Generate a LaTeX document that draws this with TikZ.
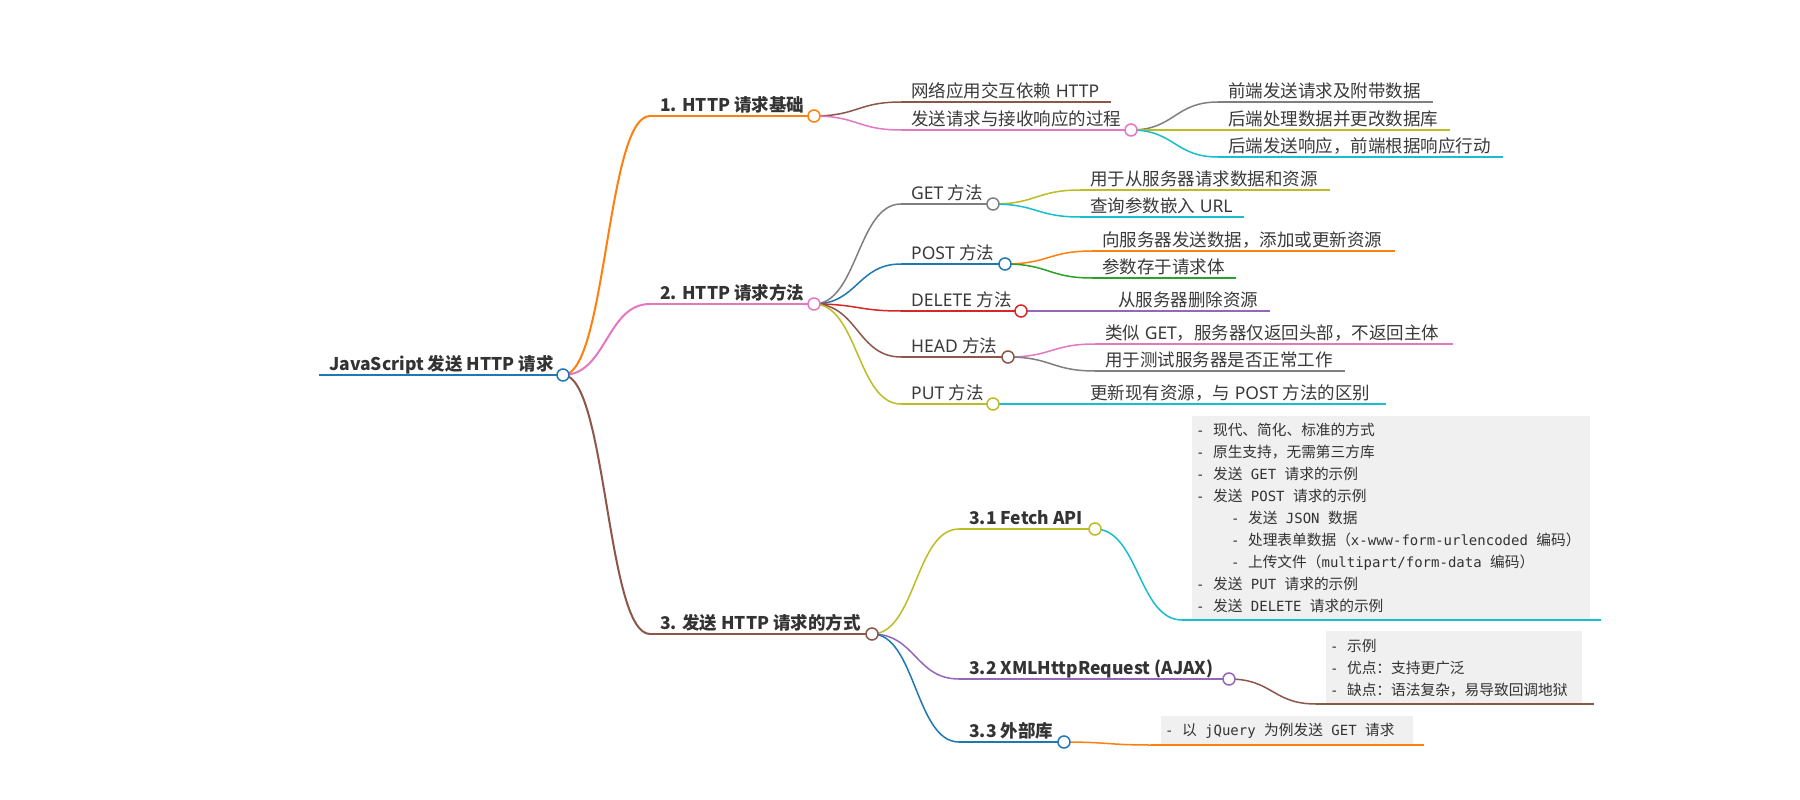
\documentclass[tikz,border=0pt]{standalone}
\usepackage{graphicx}
\usepackage{fontspec}
\setmainfont{Noto Sans}
\newfontfamily\cjkf{Noto Sans CJK SC}
\newfontfamily\monof{DejaVu Sans Mono}
\usetikzlibrary{calc}
\definecolor{cBlue}{HTML}{1F77B4}
\definecolor{cOrange}{HTML}{FF7F0E}
\definecolor{cGreen}{HTML}{2CA02C}
\definecolor{cRed}{HTML}{D62728}
\definecolor{cPurple}{HTML}{9467BD}
\definecolor{cBrown}{HTML}{8C564B}
\definecolor{cPink}{HTML}{E377C2}
\definecolor{cGray}{HTML}{7F7F7F}
\definecolor{cOlive}{HTML}{BCBD22}
\definecolor{cCyan}{HTML}{17BECF}
\definecolor{textc}{HTML}{333333}
\definecolor{ntextc}{HTML}{3A3A3A}
\definecolor{boxc}{HTML}{F0F0F0}
\newlength\mw \setlength\mw{8.43pt}
\newcommand\Z[1]{{\cjkf #1}}
\newcommand\ZM[1]{{\cjkf\fontsize{14.7}{22}\selectfont #1}}
\newcommand\T[2]{\resizebox{#1\mw}{!}{#2}}
\newcommand\Sp{\hspace{\mw}}
\newcommand\D{\T{1}{-}\hspace{\mw}}
% name, color, x0, y, x1, width, style, text
\newcommand\mmnode[8]{%
  \coordinate (#1-s) at (#3,#4);
  \coordinate (#1-e) at (#5,#4);
  \draw[draw=#2, line width=#6pt] (#1-s) -- (#1-e);
  \node[#7, anchor=base west] (#1) at ({#3+10},{#4-4.5}) {#8};
}
% parent, child, color, width
\newcommand\mmlink[4]{%
  \draw[draw=#3, line width=#4pt] let \p1=(#1-e), \p2=(#2-s) in
    (\p1) .. controls ({(\x1+\x2)/2},\y1) and ({(\x1+\x2)/2},\y2) .. (\p2);
}
\newcommand\mmdot[2]{\node[dotc, draw=#2] (#1-c) at (#1-e) {};}
\tikzset{
  txt/.style={inner sep=0pt, text=ntextc, font=\fontsize{17.5}{21}\selectfont},
  btxt/.style={inner sep=0pt, text=textc, font=\cjkf\bfseries\fontsize{17.5}{21}\selectfont},
  dotc/.style={circle, fill=white, line width=1.5pt, minimum size=12pt, inner sep=0pt},
  boxn/.style={fill=boxc, align=left, inner xsep=4pt, inner ysep=0pt, text=textc,
    font=\monof\fontsize{14}{22}\selectfont, anchor=north west},
}
\begin{document}
\begin{tikzpicture}[x=1pt,y=-1pt]
\fill[white] (0,0) rectangle (1800,800);
\useasboundingbox (0,0) rectangle (1800,800);

% ---------- nodes (underlines + text) ----------
\mmnode{root}{cBlue}{319}{375}{563}{2.5}{btxt}{JavaScript \Z{发送} HTTP \Z{请求}}
\mmnode{L1}{cOrange}{650}{116}{814}{2}{btxt}{1. HTTP \Z{请求基础}}
\mmnode{L2}{cPink}{650}{304}{814}{2}{btxt}{2. HTTP \Z{请求方法}}
\mmnode{L3}{cBrown}{650}{634}{872}{2}{btxt}{3. \Z{发送} HTTP \Z{请求的方式}}

\mmnode{a1}{cBrown}{901}{102}{1111}{1.5}{txt}{\Z{网络应用交互依赖} HTTP}
\mmnode{a2}{cPink}{901}{130}{1131}{1.5}{txt}{\Z{发送请求与接收响应的过程}}
\mmnode{b1}{cGray}{1218}{102}{1433}{1.5}{txt}{\Z{前端发送请求及附带数据}}
\mmnode{b2}{cOlive}{1218}{130}{1450}{1.5}{txt}{\Z{后端处理数据并更改数据库}}
\mmnode{b3}{cCyan}{1218}{157}{1503}{1.5}{txt}{\Z{后端发送响应，前端根据响应行动}}

\mmnode{g}{cGray}{901}{204}{993}{1.5}{txt}{GET \Z{方法}}
\mmnode{g1}{cOlive}{1080}{190}{1330}{1.5}{txt}{\Z{用于从服务器请求数据和资源}}
\mmnode{g2}{cCyan}{1080}{217}{1244}{1.5}{txt}{\Z{查询参数嵌入} URL}
\mmnode{p}{cBlue}{901}{264}{1005}{1.5}{txt}{POST \Z{方法}}
\mmnode{p1}{cOrange}{1092}{251}{1395}{1.5}{txt}{\Z{向服务器发送数据，添加或更新资源}}
\mmnode{p2}{cGreen}{1092}{278}{1236}{1.5}{txt}{\Z{参数存于请求体}}
\mmnode{d}{cRed}{901}{311}{1021}{1.5}{txt}{DELETE \Z{方法}}
\mmnode{d1}{cPurple}{1108}{311}{1270}{1.5}{txt}{\Z{从服务器删除资源}}
\mmnode{h}{cBrown}{901}{357}{1008}{1.5}{txt}{HEAD \Z{方法}}
\mmnode{h1}{cPink}{1095}{344}{1453}{1.5}{txt}{\Z{类似} GET\Z{，服务器仅返回头部，不返回主体}}
\mmnode{h2}{cGray}{1095}{371}{1345}{1.5}{txt}{\Z{用于测试服务器是否正常工作}}
\mmnode{u}{cOlive}{901}{404}{993}{1.5}{txt}{PUT \Z{方法}}
\mmnode{u1}{cCyan}{1080}{404}{1386}{1.5}{txt}{\Z{更新现有资源，与} POST \Z{方法的区别}}

\mmnode{f}{cOlive}{959}{529}{1095}{1.5}{btxt}{3.1 Fetch API}
\mmnode{x}{cPurple}{959}{679}{1229}{1.5}{btxt}{3.2 XMLHttpRequest (AJAX)}
\mmnode{e}{cBlue}{959}{742}{1064}{1.5}{btxt}{3.3 \Z{外部库}}

% ---------- content boxes ----------
\node[boxn, text width=390pt, minimum height=204pt] (fbox) at (1192,416) {%
\D\ZM{现代、简化、标准的方式}\\
\D\ZM{原生支持，无需第三方库}\\
\D\ZM{发送}\Sp\T{3}{GET}\Sp\ZM{请求的示例}\\
\D\ZM{发送}\Sp\T{4}{POST}\Sp\ZM{请求的示例}\\
\hspace*{35pt}\D\ZM{发送}\Sp\T{4}{JSON}\Sp\ZM{数据}\\
\hspace*{35pt}\D\ZM{处理表单数据（}\T{21}{x-www-form-urlencoded}\Sp\ZM{编码）}\\
\hspace*{35pt}\D\ZM{上传文件（}\T{19}{multipart/form-data}\Sp\ZM{编码）}\\
\D\ZM{发送}\Sp\T{3}{PUT}\Sp\ZM{请求的示例}\\
\D\ZM{发送}\Sp\T{6}{DELETE}\Sp\ZM{请求的示例}};
\coordinate (fbox-s) at (1182,620);
\coordinate (fbox-e) at (1601,620);
\draw[cCyan, line width=1.5pt] (fbox-s) -- (fbox-e);

\node[boxn, text width=248pt, minimum height=73pt] (xbox) at (1326,631) {%
\D\ZM{示例}\\
\D\ZM{优点：支持更广泛}\\
\D\ZM{缺点：语法复杂，易导致回调地狱}};
\coordinate (xbox-s) at (1316,704);
\coordinate (xbox-e) at (1594,704);
\draw[cBrown, line width=1.5pt] (xbox-s) -- (xbox-e);

\node[boxn, text width=244pt, minimum height=29pt] (ebox) at (1161,716) {%
\D\ZM{以}\Sp\T{6}{jQuery}\Sp\ZM{为例发送}\Sp\T{3}{GET}\Sp\ZM{请求}};
\coordinate (ebox-s) at (1151,745);
\coordinate (ebox-e) at (1424,745);
\draw[cOrange, line width=1.5pt] (ebox-s) -- (ebox-e);

% ---------- links ----------
\mmlink{root}{L1}{cOrange}{2}
\mmlink{root}{L2}{cPink}{2}
\mmlink{root}{L3}{cBrown}{2}
\mmlink{L1}{a1}{cBrown}{1.5}
\mmlink{L1}{a2}{cPink}{1.5}
\mmlink{a2}{b1}{cGray}{1.5}
\mmlink{a2}{b2}{cOlive}{1.5}
\mmlink{a2}{b3}{cCyan}{1.5}
\mmlink{L2}{g}{cGray}{1.5}
\mmlink{L2}{p}{cBlue}{1.5}
\mmlink{L2}{d}{cRed}{1.5}
\mmlink{L2}{h}{cBrown}{1.5}
\mmlink{L2}{u}{cOlive}{1.5}
\mmlink{g}{g1}{cOlive}{1.5}
\mmlink{g}{g2}{cCyan}{1.5}
\mmlink{p}{p1}{cOrange}{1.5}
\mmlink{p}{p2}{cGreen}{1.5}
\mmlink{d}{d1}{cPurple}{1.5}
\mmlink{h}{h1}{cPink}{1.5}
\mmlink{h}{h2}{cGray}{1.5}
\mmlink{u}{u1}{cCyan}{1.5}
\mmlink{L3}{f}{cOlive}{1.5}
\mmlink{L3}{x}{cPurple}{1.5}
\mmlink{L3}{e}{cBlue}{1.5}
\mmlink{f}{fbox}{cCyan}{1.5}
\mmlink{x}{xbox}{cBrown}{1.5}
\mmlink{e}{ebox}{cOrange}{1.5}

% ---------- dots ----------
\mmdot{root}{cBlue}
\mmdot{L1}{cOrange}
\mmdot{L2}{cPink}
\mmdot{L3}{cBrown}
\mmdot{a2}{cPink}
\mmdot{g}{cGray}
\mmdot{p}{cBlue}
\mmdot{d}{cRed}
\mmdot{h}{cBrown}
\mmdot{u}{cOlive}
\mmdot{f}{cOlive}
\mmdot{x}{cPurple}
\mmdot{e}{cBlue}
\end{tikzpicture}
\end{document}
